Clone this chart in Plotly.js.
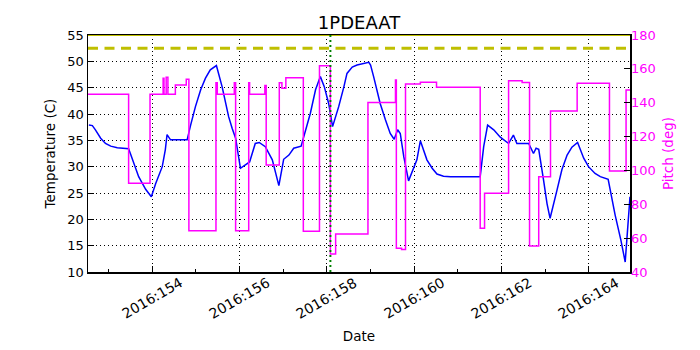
<!DOCTYPE html>
<html>
<head>
<meta charset="utf-8">
<script src="https://cdn.plot.ly/plotly-3.0.1.min.js"></script>
<style>
  body { margin: 0; background: #fff; }
  #chart { width: 700px; height: 350px; }
</style>
</head>
<body>
<div id="chart"></div>
<script>
// temperature trace (day of 2016, deg C)
var tempDays = [152.55, 152.63, 152.70, 152.82, 152.93, 153.05, 153.20, 153.46, 153.50, 153.58,
  153.69, 153.85, 153.98, 154.08, 154.23, 154.30, 154.34, 154.42, 154.80, 154.88,
  154.99, 155.11, 155.22, 155.33, 155.47, 155.60, 155.68, 155.75, 155.83, 155.91,
  156.02, 156.13, 156.23, 156.36, 156.45, 156.59, 156.75, 156.90, 157.01, 157.13,
  157.24, 157.41, 157.51, 157.62, 157.74, 157.85, 157.94, 158.04, 158.13, 158.27,
  158.39, 158.46, 158.58, 158.69, 158.96, 159.00, 159.07, 159.15, 159.22, 159.34,
  159.45, 159.54, 159.62, 159.68, 159.76, 159.87, 159.99, 160.06, 160.14, 160.22,
  160.29, 160.41, 160.52, 160.67, 160.83, 161.51, 161.59, 161.68, 161.82, 161.97,
  162.16, 162.27, 162.35, 162.62, 162.73, 162.79, 162.85, 162.96, 163.04, 163.11,
  163.19, 163.27, 163.38, 163.50, 163.61, 163.74, 163.88, 163.99, 164.14, 164.26,
  164.44, 164.60, 164.73, 164.83, 164.94];
var tempValues = [37.9, 37.8, 37.0, 35.4, 34.4, 33.9, 33.6, 33.4, 32.5, 30.6,
  28.1, 25.7, 24.3, 26.8, 30.0, 33.2, 36.1, 35.1, 35.1, 37.9,
  41.4, 44.6, 46.8, 48.4, 49.2, 45.2, 42.3, 39.5, 37.3, 35.4,
  29.7, 30.3, 30.9, 34.4, 34.6, 33.8, 31.3, 26.4, 31.4, 32.2,
  33.5, 33.9, 37.0, 40.1, 44.6, 47.1, 45.2, 42.0, 37.6, 41.4,
  45.2, 47.7, 48.9, 49.3, 49.8, 49.3, 47.1, 44.6, 42.0, 38.9,
  36.3, 35.2, 37.0, 36.3, 31.9, 27.3, 29.7, 31.3, 34.9, 32.8,
  31.3, 29.7, 28.6, 28.2, 28.1, 28.1, 33.8, 37.9, 37.0, 35.6,
  34.4, 36.0, 34.4, 34.4, 32.5, 33.5, 33.3, 27.5, 23.0, 20.2,
  22.7, 25.6, 29.4, 32.2, 33.7, 34.6, 31.6, 30.0, 28.7, 28.1,
  27.6, 20.8, 16.1, 11.9, 24.3];

// pitch trace, step changes (day of 2016, deg)
var pitchDays = [152.53, 153.46, 153.95, 154.25, 154.27, 154.32, 154.36, 154.53, 154.78, 154.84,
  155.46, 155.49, 155.88, 155.91, 156.21, 156.23, 156.58, 156.61, 156.91, 156.97,
  157.06, 157.46, 157.83, 158.08, 158.20, 158.94, 159.57, 159.59, 159.71, 159.80,
  160.14, 160.51, 161.51, 161.61, 162.16, 162.47, 162.64, 162.85, 163.12, 163.73,
  164.47, 164.85, 164.94];
var pitchValues = [145.0, 92.4, 145.0, 154.4, 145.0, 155.0, 145.0, 150.5, 153.8, 64.4,
  151.8, 145.0, 151.8, 64.4, 151.8, 145.0, 150.1, 103.2, 151.8, 148.5,
  154.8, 64.0, 161.9, 50.6, 62.5, 140.2, 153.4, 54.0, 53.3, 151.1,
  152.1, 149.1, 65.8, 86.5, 153.0, 152.0, 55.4, 96.3, 135.1, 151.5,
  99.7, 147.5, 147.5];

var dayTicks = [154, 156, 158, 160, 162, 164];
var dayLabels = dayTicks.map(function(d) { return "2016:" + d; });
var dayMinor = [153, 155, 157, 159, 161, 163];

var planningLimit = 52.5;
var cautionLimit = 55;
var markerDay = 158.08;

var FONT = "DejaVu Sans, sans-serif";
var MAGENTA = "#ff00ff";
var GRID_DASH = "1px,3px";

var data = [
  {
    x: tempDays, y: tempValues,
    type: "scatter", mode: "lines",
    line: { color: "#0000ff", width: 1.5 },
    yaxis: "y"
  },
  {
    x: pitchDays, y: pitchValues,
    type: "scatter", mode: "lines",
    line: { color: MAGENTA, width: 1.5, shape: "hv" },
    yaxis: "y2"
  }
];

// rotated date labels centred under their ticks (matplotlib style)
var dateAnnotations = dayTicks.map(function(d, i) {
  return {
    x: d, xref: "x", y: 0, yref: "paper",
    xanchor: "center", yanchor: "top", yshift: 0,
    text: dayLabels[i], textangle: -30, showarrow: false,
    font: { size: 14 }
  };
});

var layout = {
  width: 700, height: 350,
  margin: { l: 88, r: 70, t: 35, b: 78 },
  paper_bgcolor: "#fff", plot_bgcolor: "#fff",
  showlegend: false,
  font: { family: FONT, size: 13, color: "#000" },
  title: { text: "1PDEAAT", font: { size: 18 }, x: 0.5, xref: "paper", y: 0.935, yanchor: "middle" },
  xaxis: {
    range: [152.53, 164.94],
    tickmode: "array", tickvals: dayTicks, showticklabels: false,
    ticks: "inside", ticklen: 6, tickcolor: "#000",
    minor: { tickvals: dayMinor, ticks: "inside", ticklen: 3, tickcolor: "#000", showgrid: false },
    showgrid: true, gridcolor: "#000", griddash: GRID_DASH, gridwidth: 1,
    showline: true, linecolor: "#000", linewidth: 1.5, mirror: true,
    zeroline: false,
    title: { text: "Date", font: { size: 13.5 }, standoff: 59 }
  },
  yaxis: {
    range: [10, 55], dtick: 5,
    ticks: "inside", ticklen: 6, tickcolor: "#000",
    showgrid: true, gridcolor: "#000", griddash: GRID_DASH, gridwidth: 1,
    showline: true, linecolor: "#000", linewidth: 1.5, mirror: true,
    zeroline: false,
    title: { text: "Temperature (C)", font: { size: 13.5 }, standoff: 8 }
  },
  yaxis2: {
    overlaying: "y", side: "right",
    range: [40, 180], dtick: 20,
    ticks: "inside", ticklen: 6, tickcolor: "#000",
    tickfont: { color: MAGENTA },
    showgrid: false, zeroline: false, showline: false,
    title: { text: "Pitch (deg)", font: { size: 13.5, color: MAGENTA }, standoff: 8 }
  },
  annotations: dateAnnotations,
  shapes: [
    { type: "line", xref: "paper", x0: 0, x1: 1, yref: "y", y0: planningLimit, y1: planningLimit,
      line: { color: "#bfbf00", width: 3, dash: "10px,6.5px" } },
    { type: "line", xref: "paper", x0: 0, x1: 1, yref: "y", y0: cautionLimit, y1: cautionLimit,
      line: { color: "#bfbf00", width: 2 } },
    { type: "line", xref: "x", x0: markerDay, x1: markerDay, yref: "paper", y0: 0, y1: 1,
      line: { color: "#008000", width: 2, dash: "2px,3px" } }
  ]
};

Plotly.newPlot("chart", data, layout, { displayModeBar: false, staticPlot: true });
</script>
</body>
</html>
